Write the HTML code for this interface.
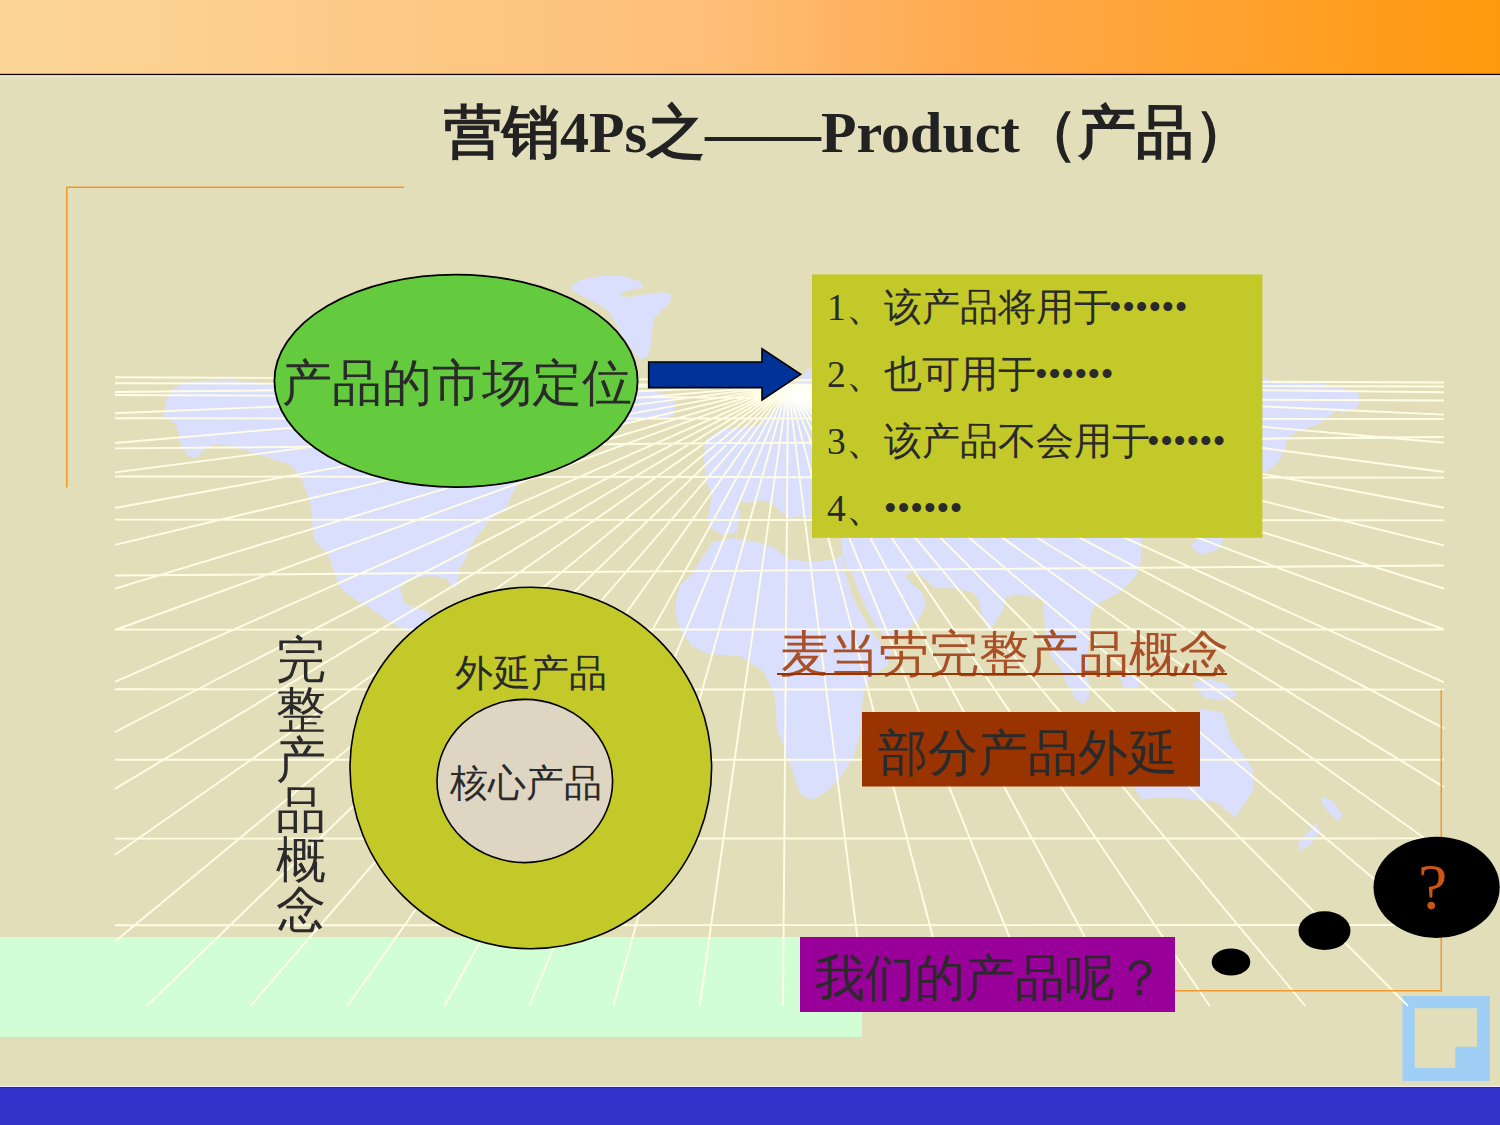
<!DOCTYPE html>
<html><head><meta charset="utf-8">
<style>
html,body{margin:0;padding:0;}
body{width:1500px;height:1125px;overflow:hidden;position:relative;background:#E3DEBA;font-family:"Liberation Serif",serif;color:#2a2a2a;}
.a{position:absolute;white-space:nowrap;}
svg{position:absolute;left:0;top:0;}
</style></head><body>
<svg width="1500" height="1125" viewBox="0 0 1500 1125">
<defs>
<linearGradient id="tb" x1="0" y1="0" x2="1" y2="0">
<stop offset="0" stop-color="#FCD698"/>
<stop offset="0.47" stop-color="#FEBF78"/>
<stop offset="0.64" stop-color="#FFAA50"/>
<stop offset="1" stop-color="#FF990C"/>
</linearGradient>
<radialGradient id="glow" cx="0.5" cy="0.5" r="0.5">
<stop offset="0" stop-color="#fff" stop-opacity="1"/>
<stop offset="1" stop-color="#fff" stop-opacity="0"/>
</radialGradient>
</defs>
<rect x="0" y="0" width="1500" height="74" fill="url(#tb)"/>
<rect x="0" y="73.8" width="1500" height="1.3" fill="#100000"/>
<rect x="0" y="75.6" width="1500" height="1.6" fill="#EAEAD2"/>
<rect x="0" y="937" width="862" height="100" fill="#D2FED6"/>
<!-- light blue icon -->
<path d="M1402.4 996H1490V1081H1402.4Z M1414.7 1008.3V1068H1455.2V1046.7H1477V1008.3Z" fill="#9FCFF5" fill-rule="evenodd"/>
<g id="map" fill="#D9DFFC">
<path d="M164 416 L166 400 L172 390 L182 383 L200 381 L230 380 L272 384 L300 370 L420 290 L560 300 L625 370 L636 392 L652 391 L668 395 L676 404 L674 415 L660 420 L636 420 L620 425 L560 460 L536 477 L520 482 L514 490 L506 508 L490 520 L474 540 L468 554 L460 568 L456 590 L446 578 L430 576 L412 578 L400 588 L404 603 L428 612 L436 625 L470 650 L480 700 L440 650 L408 630 L396 626 L384 618 L370 608 L356 600 L340 588 L334 572 L328 554 L314 540 L312 520 L310 500 L302 480 L292 466 L286 463 L270 458 L252 452 L230 446 L216 444 L206 448 L196 458 L188 456 L180 442 L179 434 L176 424Z"/>
<path d="M570 287 L580 280 L600 276 L624 276 L640 282 L644 288 L634 289 L622 293 L620 296 L630 297 L648 294 L664 292 L672 295 L670 302 L662 310 L654 318 L652 330 L651 344 L648 356 L640 360 L625 340 L608 310 L592 301 L576 293Z"/>
<path d="M705 440 L720 430 L760 425 L812 365 L812 519 L800 516 L790 518 L782 513 L775 505 L762 500 L746 503 L737 500 L740 515 L737 532 L724 535 L711 529 L708 519 L710 505 L712 495 L706 480 L704 460Z"/>
<path d="M676 600 L680 585 L692 574 L702 558 L713 542 L732 538 L756 542 L775 548 L788 559 L812 562 L836 559 L842 554 L846 575 L852 595 L862 615 L872 632 L882 645 L892 650 L888 665 L872 675 L864 690 L861 715 L860 736 L853 758 L839 779 L825 793 L811 800 L800 793 L789 761 L777 729 L775 697 L764 672 L740 656 L708 654 L692 646 L680 630 L676 614Z"/>
<path d="M842 538 L1141 538 L1141 560 L1136 576 L1120 592 L1096 605 L1091 612 L1090 630 L1088 650 L1087 670 L1090 690 L1084 704 L1076 700 L1068 684 L1060 668 L1050 655 L1045 630 L1043 600 L1030 596 L1015 594 L1006 598 L1003 610 L994 625 L987 630 L982 615 L978 598 L972 592 L950 588 L935 588 L928 582 L920 575 L912 572 L905 576 L912 584 L922 592 L926 606 L918 620 L904 632 L888 638 L878 630 L868 612 L858 590 L852 574 L846 565 L842 552Z"/>
<path d="M1262 376 L1273 382 L1319 383 L1342 388 L1358 392 L1360 402 L1354 411 L1342 413 L1338 409 L1331 415 L1319 424 L1296 432 L1287 439 L1285 450 L1278 462 L1268 471 L1262 472Z"/>
<path d="M1060 665 L1072 668 L1087 685 L1090 699 L1080 698 L1066 684Z"/>
<path d="M1119 676 L1132 674 L1141 680 L1138 688 L1124 688Z"/>
<path d="M1192 683 L1210 679 L1226 684 L1238 695 L1225 700 L1205 698Z"/>
<path d="M1190 545 L1200 538 L1224 538 L1218 550 L1200 555Z"/>
<path d="M1179 728 L1201 709 L1223 713 L1231 739 L1253 769 L1253 791 L1235 817 L1216 802 L1170 797 L1141 799 L1126 773 L1149 746Z"/>
<path d="M1322 797 L1332 800 L1343 815 L1338 821 L1328 812 L1322 803Z"/>
<path d="M1316 823 L1320 830 L1310 845 L1300 851 L1298 843 L1308 832Z"/>
</g>
<path d="M788.0 385.0L115.0 392.0 M788.0 385.0L115.0 413.3 M788.0 385.0L115.0 443.0 M788.0 385.0L115.0 472.4 M788.0 385.0L115.0 508.0 M788.0 385.0L115.0 544.8 M788.0 385.0L115.0 588.6 M788.0 385.0L115.0 630.0 M788.0 385.0L115.0 681.9 M788.0 385.0L115.0 732.0 M788.0 385.0L115.0 788.9 M788.0 385.0L115.0 854.8 M788.0 385.0L115.0 941.4 M788.0 385.0L146.7 1006.0 M788.0 385.0L250.3 1006.0 M788.0 385.0L347.3 1006.0 M788.0 385.0L444.4 1006.0 M788.0 385.0L529.3 1006.0 M788.0 385.0L613.3 1006.0 M788.0 385.0L699.6 1006.0 M788.0 385.0L783.0 1006.0 M788.0 385.0L866.0 1006.0 M788.0 385.0L951.0 1006.0 M788.0 385.0L1037.0 1006.0 M788.0 385.0L1122.0 1006.0 M788.0 385.0L1209.7 1006.0 M788.0 385.0L1305.3 1006.0 M788.0 385.0L1408.0 1006.0 M788.0 385.0L1444.0 392.3 M788.0 385.0L1444.0 414.6 M788.0 385.0L1444.0 442.7 M788.0 385.0L1444.0 472.0 M788.0 385.0L1444.0 507.8 M788.0 385.0L1444.0 545.4 M788.0 385.0L1444.0 588.5 M788.0 385.0L1444.0 629.5 M788.0 385.0L1444.0 682.3 M788.0 385.0L1444.0 728.4 M788.0 385.0L1444.0 787.1 M788.0 385.0L1444.0 852.0 M788.0 385.0L1444.0 938.0 M115.0 377.3L1444.0 382.5 M115.0 383.3L1444.0 386.5 M115.0 395.0L1444.0 400.5 M115.0 418.3L1444.0 419.0 M115.0 448.4L1444.0 437.0 M115.0 476.5L1444.0 477.6 M115.0 519.6L1444.0 520.4 M115.0 575.5L1444.0 565.5 M115.0 629.6L1444.0 629.5 M115.0 689.3L1444.0 689.6 M115.0 759.7L1444.0 759.8 M115.0 838.6L1444.0 838.4 M115.0 925.3L1444.0 925.0" stroke="#FFFDE6" stroke-width="1.9" fill="none"/>
<ellipse cx="800" cy="398" rx="28" ry="22" fill="url(#glow)"/>
<!-- orange frame lines -->
<path d="M66.8 487.5V187.2H404" stroke="#F09A2C" stroke-width="1.6" fill="none"/>
<path d="M1441.3 690V990.8H1000" stroke="#F09A2C" stroke-width="1.6" fill="none"/>
<!-- ellipse -->
<ellipse cx="456" cy="380.9" rx="181.6" ry="106.2" fill="#65CB3E" stroke="#000" stroke-width="1.8"/>
<!-- arrow -->
<path d="M648.7 362H762V348.7L800.7 374.3L762 400V387.6H648.7Z" fill="#003399" stroke="#000" stroke-width="1.6" stroke-linejoin="miter"/>
<!-- olive box -->
<rect x="812" y="274.4" width="450.4" height="263.4" fill="#C2C929"/>
<!-- circles -->
<circle cx="530.8" cy="768" r="180.8" fill="#C2C929" stroke="#000" stroke-width="1.6"/>
<ellipse cx="524.8" cy="781" rx="87.8" ry="81.6" fill="#DED6C2" stroke="#000" stroke-width="1.6"/>
<!-- boxes -->
<rect x="862" y="712" width="338" height="74.5" fill="#993300"/>
<rect x="800" y="937" width="375" height="75" fill="#990099"/>
<!-- thought bubbles -->
<ellipse cx="1231" cy="962" rx="19.3" ry="13.4" fill="#000"/>
<ellipse cx="1324.5" cy="930.7" rx="26" ry="19.4" fill="#000"/>
<ellipse cx="1436.6" cy="887.3" rx="63.1" ry="50.6" fill="#000"/>
<!-- bottom bar -->
<rect x="0" y="1085.8" width="1500" height="1.2" fill="#EEEAF8"/>
<rect x="0" y="1087" width="1500" height="38" fill="#3333CC"/>
<rect x="0" y="1087" width="1500" height="1.2" fill="#2F2A9A"/>
</svg>
<div class="a" style="left:444px;top:99.5px;font-size:58px;font-weight:bold;color:#222;line-height:66px">营销4Ps之——Product（产品）</div>
<div class="a" style="left:282px;top:353.2px;font-size:50px;line-height:60px">产品的市场定位</div>
<div class="a" style="left:827px;top:273.6px;font-size:37.5px;line-height:67px">1、该产品将用于<span style="margin-left:-3px">••••••</span><br>2、也可用于<span style="margin-left:-1px">••••••</span><br>3、该产品不会用于<span style="margin-left:-3px">••••••</span><br>4、••••••</div>
<div class="a" style="left:455px;top:650.5px;font-size:37.5px;line-height:45px">外延产品</div>
<div class="a" style="left:450px;top:760.5px;font-size:37.5px;line-height:45px">核心产品</div>
<div class="a" style="left:276px;top:634.9px;font-size:50px;line-height:50px;width:50px;white-space:normal">完整产品概念</div>
<div class="a" style="left:779px;top:626px;font-size:50px;line-height:56px;color:#AA5028">麦当劳完整产品概念</div>
<div class="a" style="left:777px;top:672.8px;width:450px;height:2px;background:#993300"></div>
<div class="a" style="left:878px;top:725.1px;font-size:50px;line-height:56px">部分产品外延</div>
<div class="a" style="left:815px;top:949.5px;font-size:50px;line-height:56px">我们的产品呢？</div>
<div class="a" style="left:1418px;top:853.5px;font-size:66px;line-height:66px;color:#CC5515">?</div>
</body></html>
